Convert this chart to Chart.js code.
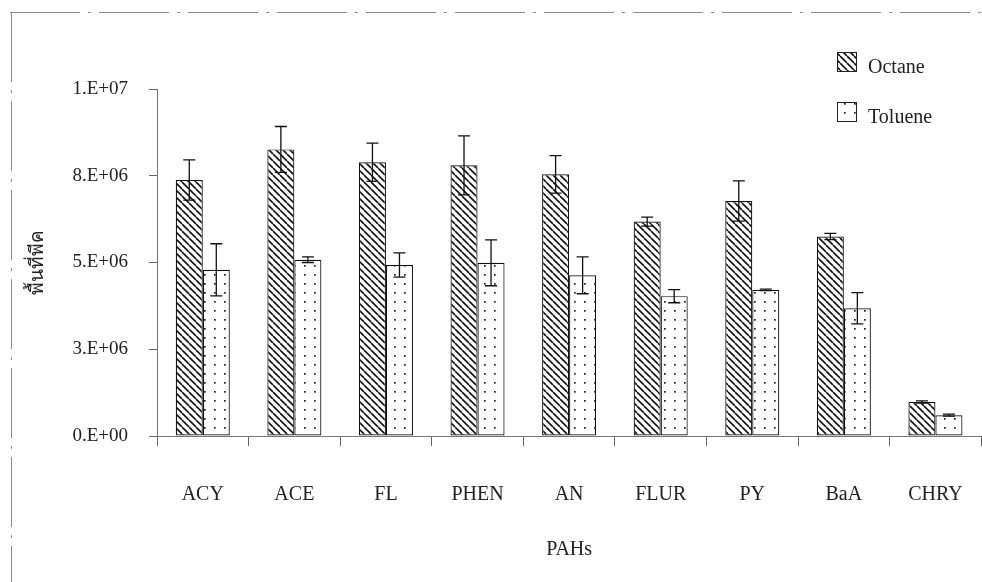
<!DOCTYPE html>
<html>
<head>
<meta charset="utf-8">
<script src="https://cdn.jsdelivr.net/npm/chart.js@4.4.1/dist/chart.umd.min.js"></script>
<style>
  html, body { margin: 0; padding: 0; background: #fff; overflow: hidden; }
  canvas { display: block; }
</style>
</head>
<body>
<canvas id="chart" width="1000" height="582"></canvas>
<script>
// PAH peak areas extracted with two solvents (mean and error)
const categories = ['ACY', 'ACE', 'FL', 'PHEN', 'AN', 'FLUR', 'PY', 'BaA', 'CHRY'];
const seriesNames = ['Octane', 'Toluene'];
const octaneValues = [7.38e6, 8.26e6, 7.89e6, 7.80e6, 7.54e6, 6.18e6, 6.77e6, 5.75e6, 0.98e6];
const octaneErrors = [0.58e6, 0.66e6, 0.55e6, 0.85e6, 0.54e6, 0.13e6, 0.58e6, 0.09e6, 0.03e6];
const tolueneValues = [4.79e6, 5.08e6, 4.93e6, 4.99e6, 4.63e6, 4.03e6, 4.21e6, 3.68e6, 0.60e6];
const tolueneErrors = [0.75e6, 0.08e6, 0.35e6, 0.66e6, 0.53e6, 0.19e6, 0.02e6, 0.45e6, 0.03e6];
const yTicks = [0, 2.5e6, 5e6, 7.5e6, 1e7];
const xTitle = 'PAHs';
const yTitle = 'พื้นที่พีค';

const SERIF = '"Liberation Serif", "DejaVu Serif", serif';

// Fill patterns: back-slash hatching and a sparse dot grid
function hatchPattern() {
  const s = 7;
  const c = document.createElement('canvas');
  c.width = s; c.height = s;
  const g = c.getContext('2d');
  g.fillStyle = '#fff';
  g.fillRect(0, 0, s, s);
  g.strokeStyle = '#111';
  g.lineWidth = 1.6;
  g.beginPath();
  for (const k of [-s, 0, s]) {
    g.moveTo(k, 0);
    g.lineTo(k + s, s);
  }
  g.stroke();
  return g.createPattern(c, 'repeat');
}
function dotPattern() {
  const w = 10, h = 9;
  const c = document.createElement('canvas');
  c.width = w; c.height = h;
  const g = c.getContext('2d');
  g.fillStyle = '#fff';
  g.fillRect(0, 0, w, h);
  g.fillStyle = '#222';
  g.fillRect(4, 4, 1.7, 1.7);
  return g.createPattern(c, 'repeat');
}

function sciLabel(v) {
  const [m, e] = Number(v).toExponential(0).split('e');
  const sign = e[0] === '-' ? '-' : '+';
  const ex = String(Math.abs(parseInt(e, 10))).padStart(2, '0');
  return m + '.E' + sign + ex;
}

// Error bars drawn from the error arrays through the chart's scales
const errorBars = {
  id: 'errorBars',
  afterDatasetsDraw(chart) {
    const ctx = chart.ctx;
    const y = chart.scales.y;
    ctx.save();
    ctx.strokeStyle = '#111';
    ctx.lineWidth = 1.3;
    chart.data.datasets.forEach((ds, di) => {
      const meta = chart.getDatasetMeta(di);
      meta.data.forEach((bar, i) => {
        const v = ds.data[i], e = ds.errors[i];
        const x = bar.x;
        const yt = y.getPixelForValue(v + e);
        const yb = y.getPixelForValue(v - e);
        const cap = 6;
        ctx.beginPath();
        ctx.moveTo(x, yt); ctx.lineTo(x, yb);
        ctx.moveTo(x - cap, yt); ctx.lineTo(x + cap, yt);
        ctx.moveTo(x - cap, yb); ctx.lineTo(x + cap, yb);
        ctx.stroke();
      });
    });
    ctx.restore();
  }
};

// Legend boxes placed in the upper right corner
const cornerLegend = {
  id: 'cornerLegend',
  afterDraw(chart) {
    const ctx = chart.ctx;
    ctx.save();
    const x0 = 837, y0 = 52, box = 20, gap = 50;
    chart.data.datasets.forEach((ds, i) => {
      const y = y0 + i * gap;
      ctx.fillStyle = ds.backgroundColor;
      ctx.fillRect(x0, y, box, box);
      ctx.strokeStyle = '#222';
      ctx.lineWidth = 1;
      ctx.strokeRect(x0 + 0.5, y + 0.5, box - 1, box - 1);
      ctx.fillStyle = '#222';
      ctx.font = '20px ' + SERIF;
      ctx.textAlign = 'left';
      ctx.textBaseline = 'alphabetic';
      ctx.fillText(ds.label, x0 + 31, y + 21);
    });
    ctx.restore();
  }
};

// Thin dashed frame along the top and left
const frame = {
  id: 'frame',
  beforeDraw(chart) {
    const ctx = chart.ctx;
    ctx.save();
    ctx.fillStyle = '#fff';
    ctx.fillRect(0, 0, chart.width, chart.height);
    ctx.strokeStyle = '#8a8a8a';
    ctx.lineWidth = 1;
    ctx.setLineDash([70, 8, 3, 8]);
    ctx.beginPath();
    ctx.moveTo(10, 12.5); ctx.lineTo(chart.width, 12.5);
    ctx.moveTo(11.5, 12); ctx.lineTo(11.5, chart.height);
    ctx.stroke();
    ctx.restore();
  }
};

new Chart(document.getElementById('chart'), {
  type: 'bar',
  data: {
    labels: categories,
    datasets: [
      {
        label: seriesNames[0],
        data: octaneValues,
        errors: octaneErrors,
        backgroundColor: hatchPattern(),
        borderColor: '#111',
        borderWidth: 1.2,
        borderSkipped: false
      },
      {
        label: seriesNames[1],
        data: tolueneValues,
        errors: tolueneErrors,
        backgroundColor: dotPattern(),
        borderColor: '#111',
        borderWidth: 1.2,
        borderSkipped: false
      }
    ]
  },
  options: {
    responsive: false,
    animation: false,
    layout: { padding: { left: 0, right: 6, top: 89, bottom: 0 } },
    datasets: { bar: { categoryPercentage: 0.59, barPercentage: 1.0 } },
    plugins: {
      legend: { display: false },
      tooltip: { enabled: false }
    },
    scales: {
      x: {
        afterFit(scale) { scale.height = 146; },
        grid: {
          offset: true,
          drawOnChartArea: false,
          drawTicks: true,
          tickLength: 10,
          color: '#666'
        },
        border: { display: true, color: '#777', width: 1 },
        ticks: {
          padding: 37,
          color: '#222',
          font: { family: SERIF, size: 20 }
        },
        title: {
          display: true,
          text: xTitle,
          color: '#222',
          font: { family: SERIF, size: 20 },
          padding: { top: 0, bottom: 20 }
        }
      },
      y: {
        min: 0,
        max: 1e7,
        afterFit(scale) { scale.width = 157; },
        afterBuildTicks(scale) { scale.ticks = yTicks.map(v => ({ value: v })); },
        grid: {
          drawOnChartArea: false,
          drawTicks: true,
          tickLength: 8,
          color: '#666'
        },
        border: { display: true, color: '#777', width: 1 },
        ticks: {
          padding: 21,
          color: '#222',
          font: { family: SERIF, size: 19 },
          callback: (v) => sciLabel(v)
        },
        title: {
          display: true,
          text: yTitle,
          color: '#222',
          font: { family: '"Noto Sans", "DejaVu Sans", sans-serif', size: 19 },
          padding: { top: 26, bottom: 0 }
        }
      }
    }
  },
  plugins: [frame, errorBars, cornerLegend]
});
</script>
</body>
</html>
